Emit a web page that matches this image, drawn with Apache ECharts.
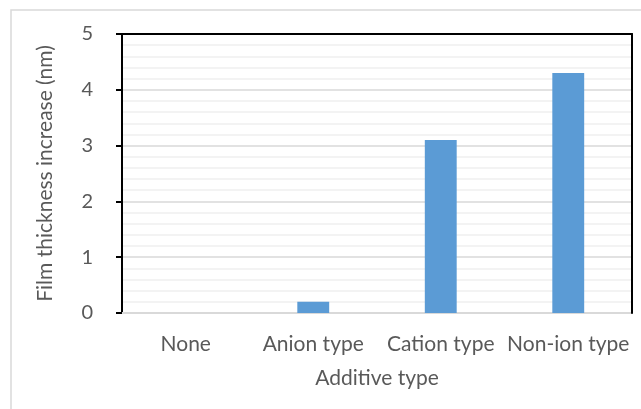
<!DOCTYPE html>
<html>
<head>
<meta charset="utf-8">
<script src="https://cdn.jsdelivr.net/npm/echarts@6/dist/echarts.min.js"></script>
<style>
  html, body { margin: 0; padding: 0; background: #fff; }
  #main { width: 641px; height: 409px; }
</style>
</head>
<body>
<div id="main"></div>
<script>
// 数据
var categories = ['None', 'Anion type', 'Cation type', 'Non-ion type']
var thickness = [0, 0.2, 3.1, 4.3]

var chart = echarts.init(document.getElementById('main'))

var font = 'Lato'
var textColor = '#595959'

var option = {
  animation: false,
  backgroundColor: '#fff',
  graphic: [
    {
      // 外框
      type: 'rect',
      shape: { x: 11, y: 10, width: 700, height: 500 },
      style: { fill: null, stroke: '#d9d9d9', lineWidth: 1.5 },
      silent: true
    }
  ],
  grid: {
    left: 122,
    right: 9,
    top: 34,
    bottom: 96,
    show: false
  },
  xAxis: [
    {
      type: 'category',
      data: categories,
      name: 'Additive type',
      nameLocation: 'middle',
      nameGap: 55,
      nameTextStyle: { fontFamily: font, fontSize: 21, color: textColor },
      axisLine: { onZero: false, lineStyle: { color: '#d9d9d9', width: 2 } },
      axisTick: { show: false },
      axisLabel: {
        margin: 21,
        fontFamily: font,
        fontSize: 21,
        color: textColor,
        interval: 0
      }
    },
    {
      // 上边框
      type: 'category',
      position: 'top',
      data: categories,
      axisLine: { onZero: false, lineStyle: { color: '#000', width: 2 } },
      axisTick: { show: false },
      axisLabel: { show: false },
      splitLine: { show: false },
      z: 6
    }
  ],
  yAxis: [
    {
      type: 'value',
      min: 0,
      max: 5,
      interval: 1,
      name: 'Film thickness increase (nm)',
      nameLocation: 'middle',
      nameGap: 66,
      nameTextStyle: { fontFamily: font, fontSize: 21, color: textColor },
      axisLine: { show: true, onZero: false, lineStyle: { color: '#000', width: 2 } },
      axisTick: { show: true, inside: false, length: 6, lineStyle: { color: '#000', width: 2 } },
      axisLabel: { margin: 29, fontFamily: font, fontSize: 20, color: textColor },
      splitLine: { lineStyle: { color: '#d9d9d9', width: 1.5 } },
      minorTick: { show: false, splitNumber: 5 },
      minorSplitLine: { show: true, lineStyle: { color: '#f0f0f0', width: 1.5 } }
    },
    {
      // 右边框
      type: 'value',
      position: 'right',
      min: 0,
      max: 5,
      interval: 1,
      axisLine: { show: true, onZero: false, lineStyle: { color: '#000', width: 2 } },
      axisTick: { show: false },
      axisLabel: { show: false },
      splitLine: { show: false },
      z: 6
    }
  ],
  series: [
    {
      type: 'bar',
      data: thickness,
      barWidth: '25%',
      itemStyle: { color: '#5b9bd5' },
      z: 3
    }
  ]
}

chart.setOption(option)
</script>
</body>
</html>
